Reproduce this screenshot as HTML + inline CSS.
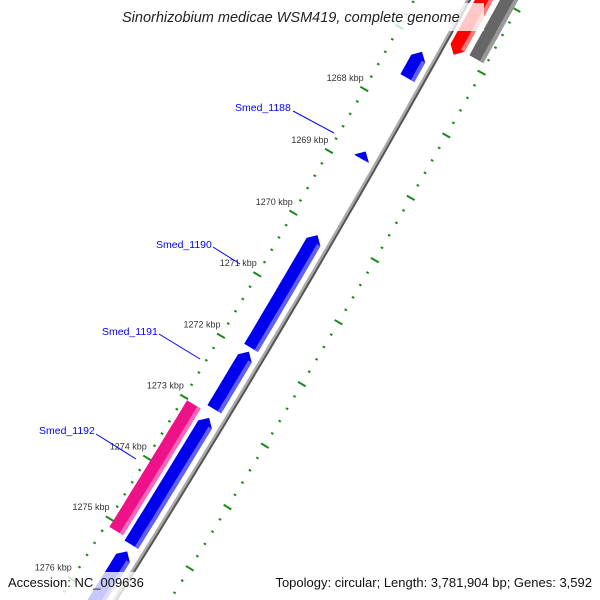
<!DOCTYPE html>
<html><head><meta charset="utf-8">
<style>
html,body{margin:0;padding:0;background:#fff;overflow:hidden;}
svg{display:block;font-family:"Liberation Sans","DejaVu Sans",sans-serif;}
</style></head>
<body>
<svg id="map" width="600" height="600" viewBox="0 0 600 600" xmlns="http://www.w3.org/2000/svg">
<g id="ticks"></g>
<g id="backbone"></g>
<g id="features"></g>
<g id="klabels"></g>
<g font-size="10.5" fill="#0000ff">
<text x="235" y="111">Smed_1188</text>
<line x1="293" y1="111" x2="334" y2="133" stroke="#0000ff" stroke-width="1"/>
<text x="156" y="248">Smed_1190</text>
<line x1="213" y1="247" x2="240" y2="264" stroke="#0000ff" stroke-width="1"/>
<text x="102" y="335">Smed_1191</text>
<line x1="159" y1="334" x2="200" y2="359" stroke="#0000ff" stroke-width="1"/>
<text x="39" y="434">Smed_1192</text>
<line x1="96" y1="434" x2="136" y2="459" stroke="#0000ff" stroke-width="1"/>
</g>
<rect x="116" y="3" width="368" height="28" fill="#fff" opacity="0.78"/>
<text x="122" y="22" font-size="14.5" font-style="italic" fill="#222">Sinorhizobium medicae WSM419, complete genome</text>
<rect x="4" y="572" width="148" height="28" fill="#fff" opacity="0.78"/>
<rect x="255" y="572" width="342" height="28" fill="#fff" opacity="0.78"/>
<text x="8" y="587" font-size="13" fill="#111">Accession: NC_009636</text>
<text x="592" y="587" font-size="13" fill="#111" text-anchor="end">Topology: circular; Length: 3,781,904 bp; Genes: 3,592</text>
</svg>
<script>
// data
const kbpLabels = [1268,1269,1270,1271,1272,1273,1274,1275,1276];
const featStart = [1267.15,1268.75,1270.1,1271.99,1273.07,1275.26,1273.02,1265.5,1265.5];
const featEnd   = [1267.57,1268.87,1271.93,1272.93,1275.15,1276.8,1275.1,1266.97,1266.87];
const featLane  = ["outer","outer","outer","outer","outer","outer","outer2","inner","inner2"];
const featDir   = [-1,-1,-1,-1,-1,-1,0,1,0];
const featColor = ["blue","blue","blue","blue","blue","blue","pink","red","gray"];

const NS="http://www.w3.org/2000/svg";
function circ(A,B,C){
  const d=2*(A[0]*(B[1]-C[1])+B[0]*(C[1]-A[1])+C[0]*(A[1]-B[1]));
  const a2=A[0]*A[0]+A[1]*A[1], b2=B[0]*B[0]+B[1]*B[1], c2=C[0]*C[0]+C[1]*C[1];
  return [(a2*(B[1]-C[1])+b2*(C[1]-A[1])+c2*(A[1]-B[1]))/d,(a2*(C[0]-B[0])+b2*(A[0]-C[0])+c2*(B[0]-A[0]))/d];
}
const cen=circ([468,0],[291,310],[127,580]);
const cx=cen[0], cy=cen[1];
const R0=Math.hypot(291-cx,310-cy);
const P1=[260,276], P2=[107,517];
const a1=Math.atan2(P1[1]-cy,P1[0]-cx), a2=Math.atan2(P2[1]-cy,P2[0]-cx);
const ringL=(Math.hypot(P1[0]-cx,P1[1]-cy)+Math.hypot(P2[0]-cx,P2[1]-cy))/2;
const sgn=ringL<R0?-1:1; // direction toward the left (outer label) side
const ringRt=R0-(ringL-R0);
function ang(k){return a1+(k-1271)*(a2-a1)/4;}
function pt(k,r){const a=ang(k);return [cx+r*Math.cos(a),cy+r*Math.sin(a)];}
function mk(tag,attrs,parent){const e=document.createElementNS(NS,tag);for(const k in attrs)e.setAttribute(k,attrs[k]);parent.appendChild(e);return e;}

// tick rings
const tg=document.getElementById('ticks');
for(let i=0;i<=70;i++){
  const k=1264+i*0.2; const major=Math.abs(k-Math.round(k))<0.01;
  [ringL,ringRt].forEach(function(r){
    const h=major?4.5:1.3;
    const p=pt(k,r-h), q=pt(k,r+h);
    const l=mk('line',{x1:p[0],y1:p[1],x2:q[0],y2:q[1],stroke:'#1a8a1a','stroke-width':2},tg);
    
    
  });
}
// backbone
const bg=document.getElementById('backbone');
function arcPath(r,k0,k1){let s='';for(let i=0;i<=60;i++){const k=k0+(k1-k0)*i/60;const p=pt(k,r);s+=(i?'L':'M')+p[0].toFixed(1)+' '+p[1].toFixed(1);}return s;}
const b1=mk('path',{d:arcPath(R0-sgn*1.5,1264,1278),stroke:'#555',fill:'none','stroke-width':2.5},bg);


const b2=mk('path',{d:arcPath(R0+sgn*0.5,1264,1278),stroke:'#aaa',fill:'none','stroke-width':2.5},bg);



// features
const laneR={outer:R0+sgn*15,outer2:R0+sgn*35,inner:R0-sgn*14,inner2:R0-sgn*36};
const cols={blue:['#0000ee','#6060ff'],pink:['#ee1188','#ff66bb'],red:['#ff0000','#ff7777'],gray:['#666666','#999999']};
const fg=document.getElementById('features');
const headK=0.11, W=16;
featStart.forEach(function(s,i){
  const e=featEnd[i], r=laneR[featLane[i]], d=featDir[i];
  const N=16;
  let bodyS=s, bodyE=e;
  if(d<0) bodyS=Math.min(s+headK,e);
  if(d>0) bodyE=Math.max(e-headK,s);
  const outer=[], inner=[];
  for(let j=0;j<=N;j++){const k=bodyS+(bodyE-bodyS)*j/N;outer.push(pt(k,r+W/2));inner.push(pt(k,r-W/2));}
  let poly=[];
  if(d<0){poly.push(pt(s,r));}
  poly=poly.concat(outer);
  if(d>0){poly.push(pt(e,r));}
  poly=poly.concat(inner.reverse());
  const c=cols[featColor[i]];
  const p=mk('polygon',{points:poly.map(q=>q[0].toFixed(1)+','+q[1].toFixed(1)).join(' '),fill:c[0]},fg);
  
  
  // highlight strip on the right (inner) side
  const edge=r-sgn*W/2, inE=r-sgn*(W/2-4);
  const hs=[];for(let j=0;j<=N;j++){const k=bodyS+(bodyE-bodyS)*j/N;hs.push(pt(k,inE));}
  const hi=[];for(let j=N;j>=0;j--){const k=bodyS+(bodyE-bodyS)*j/N;hi.push(pt(k,edge));}
  const h=mk('polygon',{points:hs.concat(hi).map(q=>q[0].toFixed(1)+','+q[1].toFixed(1)).join(' '),fill:c[1]},fg);
  
  
});

// kbp labels
const lg=document.getElementById('klabels');
kbpLabels.forEach(function(k){
  const p=pt(k,ringL+sgn*22);
  const t=mk('text',{x:p[0].toFixed(1),y:(p[1]+3).toFixed(1),'font-size':9,fill:'#333','text-anchor':'middle'},lg);
  t.textContent=k+' kbp';
  
  
});
</script>
</body></html>
